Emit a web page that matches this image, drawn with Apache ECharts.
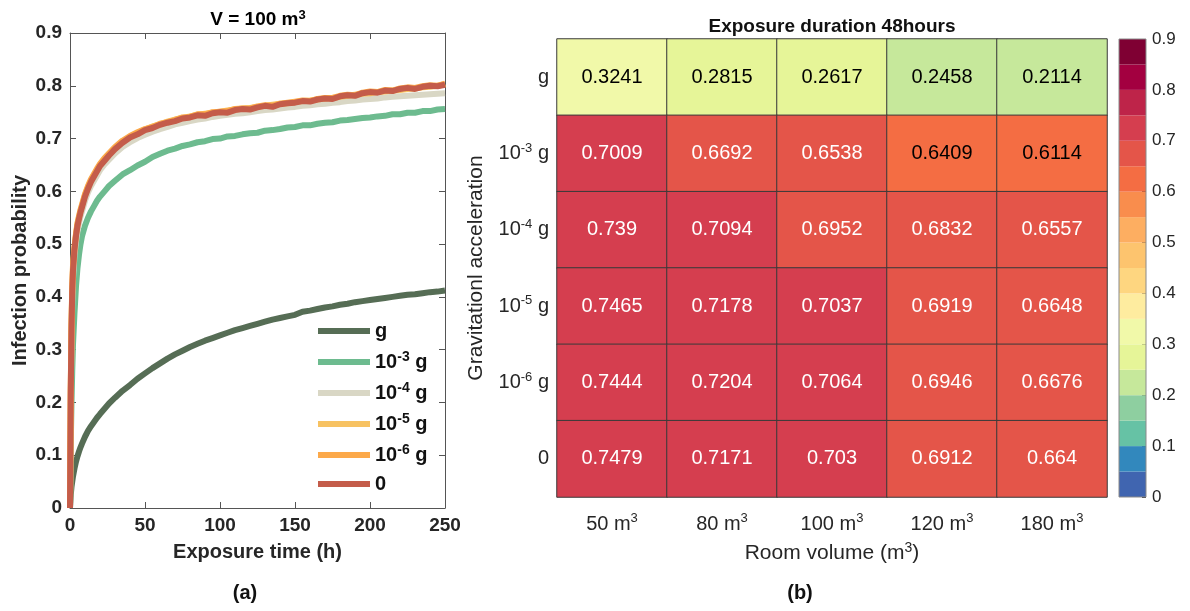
<!DOCTYPE html>
<html><head><meta charset="utf-8">
<script src="https://cdn.jsdelivr.net/npm/echarts@6/dist/echarts.min.js"></script>
<style>html,body{margin:0;padding:0;background:#fff}#c{width:1190px;height:611px}</style>
</head><body><div id="c"></div>
<script>
// ---------- data: left panel (V = 100 m^3) ----------
const times = [0,0.5,1,1.5,2,3,4,5,6,7,8,10,12,14,16,18,20,23,26,30,35,40,45,50,55,60,65,70,75,80,85,90,95,100,105,110,115,120,125,130,135,140,145,150,155,160,165,170,175,180,185,190,195,200,205,210,215,220,225,230,235,240,245,250];
const seriesNames = ['g','10^-3 g','10^-4 g','10^-5 g','10^-6 g','0'];
const valsG = [0,0.025,0.04,0.05,0.06,0.075,0.088,0.098,0.107,0.115,0.122,0.135,0.146,0.155,0.163,0.171,0.178,0.188,0.198,0.209,0.222,0.233,0.245,0.255,0.265,0.274,0.283,0.291,0.298,0.305,0.311,0.317,0.322,0.327,0.332,0.337,0.341,0.345,0.349,0.353,0.357,0.36,0.363,0.366,0.372,0.374,0.377,0.38,0.382,0.385,0.387,0.39,0.392,0.394,0.396,0.398,0.4,0.402,0.404,0.405,0.407,0.409,0.41,0.412];
const vals1e3 = [0,0.12,0.2,0.26,0.31,0.37,0.42,0.455,0.48,0.5,0.515,0.535,0.55,0.562,0.572,0.582,0.59,0.6,0.61,0.62,0.632,0.64,0.649,0.656,0.665,0.671,0.677,0.681,0.686,0.689,0.693,0.695,0.699,0.7,0.704,0.705,0.708,0.71,0.711,0.715,0.716,0.718,0.721,0.722,0.725,0.725,0.728,0.73,0.731,0.734,0.735,0.737,0.739,0.74,0.742,0.743,0.746,0.746,0.749,0.749,0.752,0.752,0.755,0.756];
const vals1e4 = [0,0.2,0.32,0.39,0.435,0.48,0.505,0.525,0.54,0.552,0.562,0.582,0.598,0.61,0.62,0.63,0.64,0.651,0.66,0.672,0.684,0.693,0.701,0.707,0.713,0.718,0.722,0.727,0.73,0.733,0.736,0.738,0.741,0.743,0.745,0.747,0.748,0.75,0.752,0.754,0.755,0.757,0.759,0.76,0.762,0.763,0.765,0.766,0.768,0.769,0.771,0.772,0.774,0.775,0.776,0.778,0.779,0.78,0.781,0.782,0.783,0.784,0.785,0.786];
const vals1e5 = [0,0.22,0.345,0.415,0.455,0.493,0.518,0.538,0.551,0.563,0.573,0.593,0.608,0.62,0.631,0.64,0.65,0.661,0.67,0.682,0.694,0.703,0.711,0.717,0.723,0.727,0.732,0.736,0.739,0.742,0.745,0.747,0.749,0.751,0.753,0.755,0.757,0.758,0.76,0.762,0.764,0.766,0.767,0.769,0.771,0.772,0.774,0.776,0.777,0.779,0.781,0.783,0.785,0.786,0.788,0.789,0.791,0.792,0.794,0.795,0.797,0.798,0.8,0.803];
const vals1e6 = [0,0.225,0.35,0.42,0.46,0.495,0.52,0.54,0.553,0.565,0.575,0.595,0.61,0.623,0.633,0.643,0.652,0.663,0.672,0.684,0.696,0.705,0.712,0.718,0.722,0.728,0.731,0.735,0.74,0.741,0.746,0.746,0.75,0.751,0.752,0.756,0.757,0.757,0.761,0.763,0.762,0.766,0.768,0.77,0.772,0.771,0.775,0.777,0.777,0.781,0.783,0.782,0.787,0.789,0.788,0.792,0.791,0.795,0.797,0.796,0.799,0.801,0.8,0.804];
const vals0 = [0,0.22,0.34,0.41,0.45,0.49,0.515,0.535,0.548,0.56,0.57,0.59,0.605,0.618,0.628,0.638,0.648,0.658,0.668,0.68,0.692,0.702,0.708,0.716,0.72,0.726,0.73,0.733,0.738,0.74,0.744,0.743,0.748,0.75,0.749,0.754,0.756,0.755,0.759,0.762,0.76,0.765,0.767,0.768,0.771,0.77,0.774,0.776,0.775,0.78,0.782,0.781,0.786,0.788,0.787,0.791,0.79,0.794,0.796,0.794,0.798,0.8,0.799,0.802];
const lineValues = [valsG, vals1e3, vals1e4, vals1e5, vals1e6, vals0];
const lineColors = ['#566d55','#6dbb8f','#d9d7c5','#f7c262','#fca94a','#c45c4a'];

// ---------- data: right panel (48 h exposure) ----------
const volumes = ['50 m^3','80 m^3','100 m^3','120 m^3','180 m^3'];
const accels = ['g','10^-3 g','10^-4 g','10^-5 g','10^-6 g','0'];
const rowG    = [0.3241,0.2815,0.2617,0.2458,0.2114];
const row1e3  = [0.7009,0.6692,0.6538,0.6409,0.6114];
const row1e4  = [0.739,0.7094,0.6952,0.6832,0.6557];
const row1e5  = [0.7465,0.7178,0.7037,0.6919,0.6648];
const row1e6  = [0.7444,0.7204,0.7064,0.6946,0.6676];
const row0    = [0.7479,0.7171,0.703,0.6912,0.664];
const heatRows = [rowG,row1e3,row1e4,row1e5,row1e6,row0];
const binColors = ['#4065b0','#3288bd','#66c2a5','#8ecfa0','#c6e89b','#e6f598','#f1f9a9','#feec9f','#fed680','#fdc46e','#fdae61','#f98d4d','#f46d43','#e45549','#d53e4f','#be2449','#a30040','#7f0033'];
const binStep = 0.05;

// ---------- helpers ----------
const FF = '"Liberation Sans", Arial, Helvetica, sans-serif';
function toRich(s){
  return s.split(/\^(-?\d+)/).map((p,i)=> p===''?'':(i%2?'{sup|'+p+'}':'{b|'+p+'}')).join('');
}
function richStyle(size, supSize, bold, color){
  const w = bold ? 'bold' : 'normal';
  return {
    b:{fontSize:size,fontWeight:w,fontFamily:FF,color:color,lineHeight:size+4,verticalAlign:'middle'},
    sup:{fontSize:supSize,fontWeight:w,fontFamily:FF,color:color,lineHeight:supSize+1,verticalAlign:'top'}
  };
}
const dark = '#262626';
const axisGray = '#555';

// ---------- build series ----------
const series = [];
seriesNames.forEach((n,k)=>{
  series.push({
    name:n, type:'line', xAxisIndex:0, yAxisIndex:0, showSymbol:false, symbol:'none',
    data: times.map((t,i)=>[t, lineValues[k][i]]),
    lineStyle:{width:6,color:lineColors[k]}, itemStyle:{color:lineColors[k]},
    emphasis:{disabled:true}, animation:false, z:2+k
  });
});
const heatData = [];
heatRows.forEach((row,r)=>row.forEach((v,c)=>{
  heatData.push({value:[c,r,v], label:{color: v < 0.65 ? '#000' : '#fff'}});
}));
series.push({
  type:'heatmap', xAxisIndex:1, yAxisIndex:2, data:heatData,
  label:{show:true, fontSize:20, fontFamily:FF, formatter:p=>String(p.value[2])},
  itemStyle:{borderColor:'#3a3a3a', borderWidth:1},
  emphasis:{disabled:true}, animation:false
});
const heatIndex = series.length-1;
binColors.forEach((c,i)=>{
  series.push({type:'bar', xAxisIndex:2, yAxisIndex:3, stack:'cb', data:[binStep], barWidth:'100%',
    itemStyle:{color:c}, emphasis:{disabled:true}, animation:false, silent:true});
});

const pieces = binColors.map((c,i)=>({gte: Math.round(i*binStep*100)/100, lt: Math.round((i+1)*binStep*100)/100, color:c}));

const option = {
  backgroundColor:'#fff',
  animation:false,
  grid:[
    {left:70, top:33, width:375, height:475},
    {left:557, top:39, width:550, height:458},
    {left:1119, top:39, width:27, height:458, show:true, borderColor:'#8a8a8a', borderWidth:1, backgroundColor:'transparent', z:5}
  ],
  legend:{
    data:seriesNames, orient:'vertical', left:313, top:316, itemWidth:52, itemHeight:6, itemGap:9,
    icon:'rect', formatter:n=>toRich(n), selectedMode:false,
    textStyle:{rich:richStyle(20,14,true,'#111')}
  },
  visualMap:[{type:'piecewise', show:false, seriesIndex:heatIndex, dimension:2, pieces:pieces}],
  xAxis:[
    {gridIndex:0, type:'value', min:0, max:250, interval:50,
      axisLine:{show:true,onZero:false,lineStyle:{color:axisGray}}, axisTick:{show:true,inside:true,length:6,lineStyle:{color:axisGray}},
      axisLabel:{fontSize:19,fontWeight:'bold',color:dark,fontFamily:FF,margin:8}, splitLine:{show:false},
      name:'Exposure time (h)', nameLocation:'middle', nameGap:34, nameTextStyle:{fontSize:20,fontWeight:'bold',color:dark,fontFamily:FF}},
    {gridIndex:1, type:'category', data:volumes, position:'bottom',
      axisLine:{show:false}, axisTick:{show:false},
      axisLabel:{margin:15, interval:0, formatter:v=>toRich(v), rich:richStyle(20,13,false,dark)},
      name:toRich('Room volume (m^3)'), nameLocation:'middle', nameGap:44,
      nameTextStyle:{fontSize:21,color:dark,fontFamily:FF, rich:richStyle(21,14,false,dark)}},
    {gridIndex:2, type:'category', data:['cb'], show:false},
    {gridIndex:0, type:'value', min:0, max:250, interval:50, position:'top',
      axisLine:{show:true,onZero:false,lineStyle:{color:axisGray}}, axisTick:{show:true,inside:true,length:6,lineStyle:{color:axisGray}},
      axisLabel:{show:false}, splitLine:{show:false}}
  ],
  yAxis:[
    {gridIndex:0, type:'value', min:0, max:0.9, interval:0.1,
      axisLine:{show:true,onZero:false,lineStyle:{color:axisGray}}, axisTick:{show:true,inside:true,length:6,lineStyle:{color:axisGray}},
      axisLabel:{fontSize:19,fontWeight:'bold',color:dark,fontFamily:FF,margin:8, formatter:v=> v===0?'0':v.toFixed(1)}, splitLine:{show:false},
      name:'Infection probability', nameLocation:'middle', nameGap:40, nameTextStyle:{fontSize:20,fontWeight:'bold',color:dark,fontFamily:FF}},
    {gridIndex:0, type:'value', min:0, max:0.9, interval:0.1, position:'right',
      axisLine:{show:true,onZero:false,lineStyle:{color:axisGray}}, axisTick:{show:true,inside:true,length:6,lineStyle:{color:axisGray}},
      axisLabel:{show:false}, splitLine:{show:false}},
    {gridIndex:1, type:'category', data:accels, inverse:true,
      axisLine:{show:false}, axisTick:{show:false},
      axisLabel:{margin:8, interval:0, formatter:v=>toRich(v), rich:richStyle(20,13,false,dark)},
      name:'Gravitationl acceleration', nameLocation:'middle', nameGap:70,
      nameTextStyle:{fontSize:21,color:dark,fontFamily:FF}},
    {gridIndex:2, type:'value', min:0, max:0.9, interval:0.1, position:'right',
      axisLine:{show:false}, axisTick:{show:true,inside:true,length:4,lineStyle:{color:'#333'}},
      axisLabel:{fontSize:17,color:dark,fontFamily:FF,margin:6, formatter:v=> v===0?'0':v.toFixed(1)},
      splitLine:{show:false}}
  ],
  graphic:[
    {type:'text', x:258, y:20, z:10, style:{text:'{b|V = 100 m}{sup|3}', rich:richStyle(19,13,true,'#111'), align:'center', verticalAlign:'middle'}},
    {type:'text', x:832, y:27, z:10, style:{text:'Exposure duration 48hours', font:'bold 19px '+FF, fill:'#111', align:'center', verticalAlign:'middle'}},
    {type:'text', x:245, y:593, z:10, style:{text:'(a)', font:'bold 20px '+FF, fill:'#111', align:'center', verticalAlign:'middle'}},
    {type:'text', x:800, y:593, z:10, style:{text:'(b)', font:'bold 20px '+FF, fill:'#111', align:'center', verticalAlign:'middle'}}
  ],
  series:series
};
const chart = echarts.init(document.getElementById('c'), null, {renderer:'canvas'});
chart.setOption(option);
</script></body></html>
